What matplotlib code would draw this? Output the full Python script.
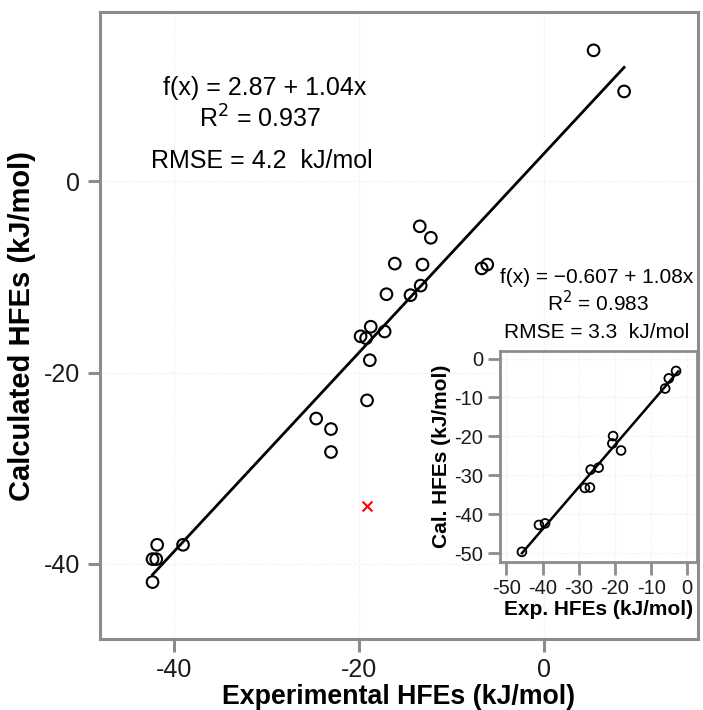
import numpy as np
import matplotlib.pyplot as plt

plt.rcParams['font.family'] = ['Liberation Sans', 'DejaVu Sans']
plt.rcParams['axes.unicode_minus'] = False

# main panel data (experimental vs calculated HFEs, kJ/mol)
exp_main = [-41.8, -42.3, -41.9, -42.3, -39.0,
            -24.6, -23.0, -23.0, -19.1, -18.8, -18.7, -19.8, -19.2, -17.2,
            -17.0, -14.4, -13.3, -16.1, -13.1, -13.4, -12.2, -6.7, -6.1,
            5.4, 8.7]
calc_main = [-38.0, -39.5, -39.5, -41.9, -38.0,
             -24.8, -25.9, -28.3, -22.9, -18.7, -15.2, -16.2, -16.4, -15.7,
             -11.8, -11.9, -10.9, -8.6, -8.7, -4.7, -5.9, -9.1, -8.7,
             13.7, 9.4]
outlier_exp = [-19.1]
outlier_calc = [-33.9]
fit_main = (2.87, 1.04)

# inset data
exp_inset = [-45.7, -41.0, -39.3, -28.3, -26.9, -26.7, -24.5, -20.7, -20.5,
             -18.3, -6.1, -5.1, -3.1]
calc_inset = [-49.6, -42.7, -42.3, -33.2, -33.1, -28.5, -28.0, -21.8, -19.9,
              -23.6, -7.7, -5.1, -3.2]
fit_inset = (-0.607, 1.08)

main_ticks = [-40, -20, 0]
inset_ticks = [-50, -40, -30, -20, -10, 0]

spine_col = '#8c8c8c'


def style_axes(ax, lw, ticklen, labelsize, pad):
    for s in ax.spines.values():
        s.set_color(spine_col)
        s.set_linewidth(lw)
    ax.tick_params(axis='both', colors=spine_col, width=lw, length=ticklen,
                   labelsize=labelsize, labelcolor='#1a1a1a', direction='out',
                   pad=pad)


fig = plt.figure(figsize=(7.03, 7.10), dpi=100)

ax = fig.add_axes([0.142, 0.100, 0.851, 0.883])
ax.grid(True, color='#f3f3f3', linestyle='--', linewidth=0.8)
ax.set_axisbelow(True)
ax.scatter(exp_main, calc_main, s=70, facecolors='none', edgecolors='black',
           linewidths=1.5, zorder=3)
ax.scatter(outlier_exp, outlier_calc, s=50, marker='x', color='red',
           linewidths=1.5, zorder=3)
xl = np.array([min(exp_main), max(exp_main)])
ax.plot(xl, fit_main[0] + fit_main[1] * xl, color='black', lw=2.0, zorder=2)
ax.set_xlim(-48, 16.7)
ax.set_ylim(-47.85, 17.7)
ax.set_xticks(main_ticks)
ax.set_yticks(main_ticks)
style_axes(ax, 2.2, 9, 18, 5)
ax.set_xlabel('Experimental HFEs (kJ/mol)', fontsize=19.3, fontweight='bold',
              labelpad=1)
ax.set_ylabel('Calculated HFEs (kJ/mol)', fontsize=21, fontweight='bold',
              labelpad=6)

fig.text(265 / 703, 1 - 88 / 710, 'f(x) = 2.87 + 1.04x', fontsize=18,
         ha='center', va='center')
fig.text(260 / 703, 1 - 119 / 710, 'R$^2$ = 0.937', fontsize=18,
         ha='center', va='center')
fig.text(262 / 703, 1 - 161 / 710, 'RMSE = 4.2  kJ/mol', fontsize=18,
         ha='center', va='center')

ax2 = fig.add_axes([0.711, 0.2085, 0.280, 0.297])
ax2.grid(True, color='#f3f3f3', linestyle='--', linewidth=0.8)
ax2.set_axisbelow(True)
ax2.scatter(exp_inset, calc_inset, s=40, facecolors='none', edgecolors='black',
            linewidths=1.3, zorder=3)
xi = np.array([min(exp_inset), max(exp_inset) + 0.6])
ax2.plot(xi, fit_inset[0] + fit_inset[1] * xi, color='black', lw=1.8, zorder=2)
ax2.set_xlim(-51.8, 2.6)
ax2.set_ylim(-52.2, 1.9)
ax2.set_xticks(inset_ticks)
ax2.set_yticks(inset_ticks)
style_axes(ax2, 2.0, 9, 14.5, 3)
ax2.set_xlabel('Exp. HFEs (kJ/mol)', fontsize=15, fontweight='bold',
               labelpad=2)
ax2.set_ylabel('Cal. HFEs (kJ/mol)', fontsize=15, fontweight='bold',
               labelpad=2)

fig.text(597 / 703, 1 - 278 / 710, 'f(x) = \u22120.607 + 1.08x', fontsize=15,
         ha='center', va='center')
fig.text(598 / 703, 1 - 303 / 710, 'R$^2$ = 0.983', fontsize=15,
         ha='center', va='center')
fig.text(597 / 703, 1 - 332 / 710, 'RMSE = 3.3  kJ/mol', fontsize=15,
         ha='center', va='center')

fig.savefig('out.png', dpi=100)
